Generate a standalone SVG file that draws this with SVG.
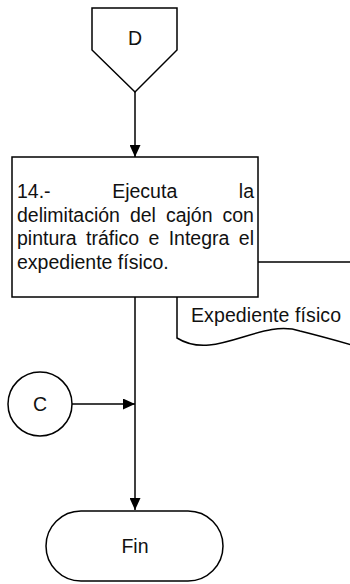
<svg xmlns="http://www.w3.org/2000/svg" width="350" height="584" viewBox="0 0 350 584">
<style>
.s{fill:#fff;stroke:#000;stroke-width:1.5}
.l{fill:none;stroke:#000;stroke-width:1.5}
.t{font-family:"Liberation Sans",Arial,sans-serif;font-size:19.5px;fill:#111}
.c{text-anchor:middle}
</style>
<defs>
<marker id="ah" markerUnits="userSpaceOnUse" markerWidth="12" markerHeight="11" refX="12" refY="5.5" orient="auto">
<path d="M0,0 L12,5.5 L0,11 z" fill="#000"/>
</marker>
</defs>
<rect width="350" height="584" fill="#fff"/>
<g id="connectors">
<line class="l" x1="135" y1="92" x2="135" y2="157" marker-end="url(#ah)"/>
<line class="l" x1="135" y1="297" x2="135" y2="510" marker-end="url(#ah)"/>
<line class="l" x1="72" y1="404" x2="135" y2="404" marker-end="url(#ah)"/>
</g>
<g id="doc">
<path class="l" d="M352,262 H177 V338 C215,362 260,318 300,331 C320,336 338,341 352,345"/>
<text class="t" x="191" y="322" textLength="150">Expediente físico</text>
</g>
<g id="D">
<polygon class="s" points="92,8 177,8 177,50 135,92 92,50"/>
<text class="t c" x="135" y="45">D</text>
</g>
<g id="task14">
<rect class="s" x="12" y="157" width="246" height="140"/>
<text class="t" y="198"><tspan x="17">14.-</tspan><tspan x="112.2">Ejecuta</tspan><tspan x="238.8">la</tspan></text>
<text class="t" y="221.5"><tspan x="17">delimitación</tspan><tspan x="129.9">del</tspan><tspan x="165.9">cajón</tspan><tspan x="222.5">con</tspan></text>
<text class="t" y="245"><tspan x="17">pintura</tspan><tspan x="86">tráfico</tspan><tspan x="148.5">e</tspan><tspan x="168.7">Integra</tspan><tspan x="238.8">el</tspan></text>
<text class="t" x="17" y="268.5">expediente físico.</text>
</g>
<g id="C">
<circle class="s" cx="40" cy="404" r="32"/>
<text class="t c" x="40" y="411">C</text>
</g>
<g id="Fin">
<rect class="s" x="46" y="511" width="177" height="70" rx="35" ry="35"/>
<text class="t c" x="135" y="553">Fin</text>
</g>
</svg>
